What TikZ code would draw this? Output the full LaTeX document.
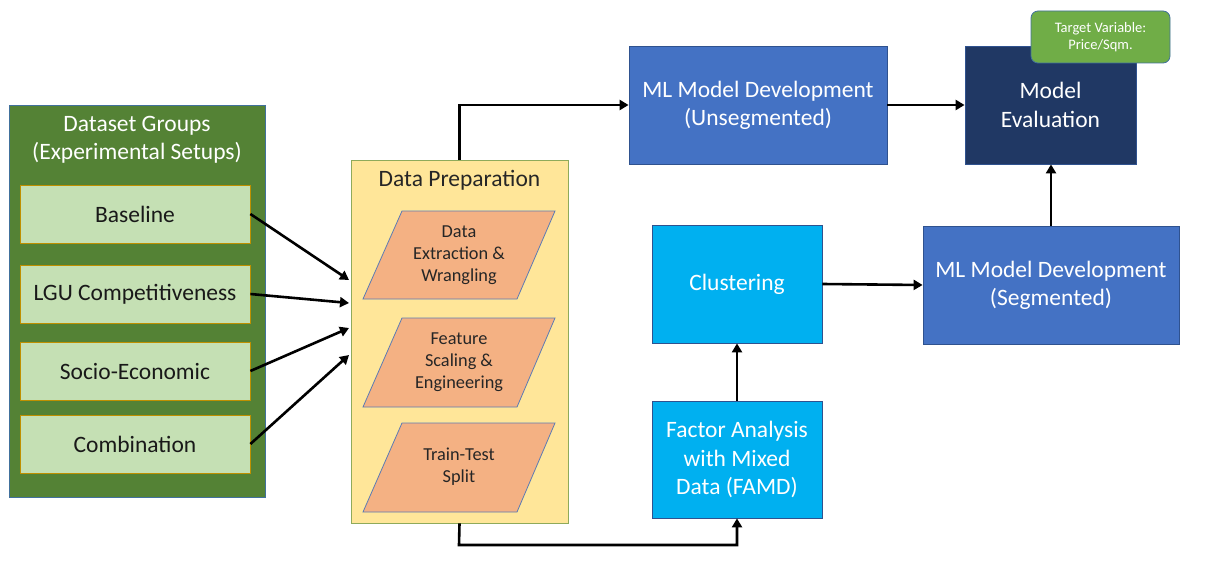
\documentclass[tikz,border=0pt]{standalone}
\usepackage{fontspec}
\setmainfont{Carlito}
\usetikzlibrary{arrows.meta}
\definecolor{outergreen}{HTML}{548235}
\definecolor{outerborder}{HTML}{41719C}
\definecolor{lightgreen}{HTML}{C5E0B4}
\definecolor{goldborder}{HTML}{BF9000}
\definecolor{prepfill}{HTML}{FFE699}
\definecolor{prepborder}{HTML}{8FAA5A}
\definecolor{parafill}{HTML}{F4B183}
\definecolor{paraborder}{HTML}{5B7BB5}
\definecolor{mlblue}{HTML}{4472C4}
\definecolor{blueborder}{HTML}{2F528F}
\definecolor{cyanbox}{HTML}{00B0F0}
\definecolor{navy}{HTML}{203864}
\definecolor{tgreen}{HTML}{70AD47}
\newcommand{\fsz}[1]{\fontsize{#1}{1.2\dimexpr#1pt\relax}\selectfont}
\tikzset{
  box/.style={draw, inner sep=0pt, align=center, line width=0.8pt},
  group/.style={box, fill=outergreen, draw=outerborder},
  setbox/.style={box, fill=lightgreen, draw=goldborder, minimum width=230pt, minimum height=58pt, font=\fsz{23.5}, text=black!90},
  prep/.style={box, fill=prepfill, draw=prepborder},
  para/.style={fill=parafill, draw=paraborder, line width=0.8pt},
  paratext/.style={align=center, font=\fsz{18.3}, text=black!85, inner sep=0pt},
  bluebox/.style={box, fill=mlblue, draw=blueborder, text=white, font=\fsz{23.5}},
  cyan/.style={box, fill=cyanbox, draw=blueborder, text=white, font=\fsz{23.5}},
  conn/.style={line width=2.6pt, -{Triangle[length=9pt,width=10pt]}},
}
\begin{document}
\begin{tikzpicture}[x=1pt,y=-1pt]
\useasboundingbox (0,0) rectangle (1225,575);
% left group
\node[group, minimum width=256pt, minimum height=392pt] (grp) at (137,301) {};
\node[align=center, text=white, font=\fsz{23.5}, inner sep=0pt] (grptitle) at (137,140) {Dataset Groups\\(Experimental Setups)};
\node[setbox] (base) at (135,214) {Baseline};
\node[setbox] (lgu) at (135,294) {LGU Competitiveness};
\node[setbox] (socio) at (135,371) {Socio-Economic};
\node[setbox] (comb) at (135,444) {Combination};
% data preparation
\node[prep, minimum width=217pt, minimum height=363pt] (prep) at (459.5,341.5) {};
\node[font=\fsz{23.5}, text=black!85, inner sep=0pt] (preptitle) at (459.5,180) {Data Preparation};
\draw[para] (363,299) -- (517,299) -- (555,211) -- (402,211) -- cycle;
\draw[para] (363,407) -- (517,407) -- (555,318) -- (402,318) -- cycle;
\draw[para] (363,512) -- (517,512) -- (555,423) -- (402,423) -- cycle;
\node[paratext] (p1) at (459,255) {Data\\Extraction \&\\Wrangling};
\node[paratext] (p2) at (459,362) {Feature\\Scaling \&\\Engineering};
\node[paratext] (p3) at (459,467) {Train-Test\\Split};
% right side
\node[bluebox, minimum width=258pt, minimum height=118pt] (unseg) at (758,105) {ML Model Development\\(Unsegmented)};
\node[box, fill=navy, draw=blueborder, text=white, font=\fsz{23.5}, minimum width=171pt, minimum height=118pt] (eval) at (1050.5,105) {Model\\Evaluation};
\node[box, rounded corners=7pt, fill=tgreen, draw=outerborder, text=white, font=\fsz{14.5}, minimum width=139pt, minimum height=52pt] (target) at (1100.5,37) {Target Variable:\\Price/Sqm.};
\node[cyan, minimum width=170pt, minimum height=118pt] (clust) at (737,284) {Clustering};
\node[bluebox, minimum width=256pt, minimum height=118pt] (seg) at (1051,285) {ML Model Development\\(Segmented)};
\node[cyan, minimum width=170pt, minimum height=117pt] (famd) at (737,459.5) {Factor Analysis\\with Mixed\\Data (FAMD)};
% connectors
\coordinate (in1) at (349,280);
\coordinate (in2) at (349,303);
\coordinate (in3) at (349,328);
\coordinate (in4) at (349,355);
\draw[conn] (base.east) -- (in1);
\draw[conn] (lgu.east) -- (in2);
\draw[conn] (socio.east) -- (in3);
\draw[conn] (comb.east) -- (in4);
\draw[conn] (prep.north) |- (unseg.west);
\draw[conn] (unseg.east) -- (eval.west);
\draw[conn] (clust.east) -- (seg.west);
\draw[conn] (seg.north) -- (seg.north |- eval.south);
\draw[conn] (famd.north) -- (clust.south);
\coordinate (bot) at (459,545);
\draw[conn] (prep.south) -- (bot) -| (famd.south);
\end{tikzpicture}
\end{document}
